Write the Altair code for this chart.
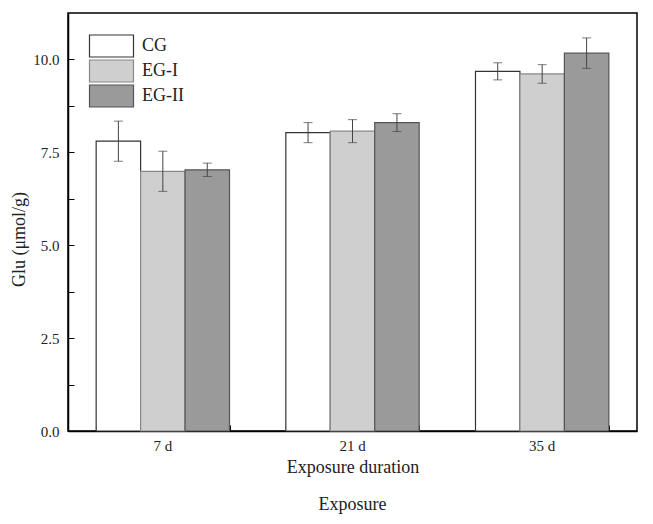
import altair as alt
import pandas as pd

durations = ["7 d", "21 d", "35 d"]
groups = ["CG", "EG-I", "EG-II"]
cg_mean = [7.80, 8.03, 9.68]
egi_mean = [6.99, 8.07, 9.61]
egii_mean = [7.03, 8.30, 10.17]
cg_err = [0.54, 0.27, 0.23]
egi_err = [0.54, 0.31, 0.25]
egii_err = [0.18, 0.24, 0.41]
y_labels = [0, 2.5, 5, 7.5, 10]
y_ticks = [0, 1.25, 2.5, 3.75, 5, 6.25, 7.5, 8.75, 10]
fills = ["#ffffff", "#cfcfcf", "#9a9a9a"]
strokes = ["#333333", "#888888", "#555555"]

rows = []
for g, means, errs in zip(groups, [cg_mean, egi_mean, egii_mean], [cg_err, egi_err, egii_err]):
    for d, m, e in zip(durations, means, errs):
        rows.append({"Duration": d, "Group": g, "Glu": m, "lo": m - e, "hi": m + e})
df = pd.DataFrame(rows)

W, H = 569, 418
FONT = "Liberation Serif"
TXT = "#222222"

x_scale = alt.Scale(domain=durations, paddingInner=0.297, paddingOuter=0.1485)
y_scale = alt.Scale(domain=[0, 11.25], nice=False, zero=True)
xo_scale = alt.Scale(domain=groups, paddingInner=0, paddingOuter=0)

legend = alt.Legend(
    title=None, orient="none", legendX=34.5, legendY=24,
    symbolType="M-4,-2H4V2H-4Z", symbolSize=121, symbolStrokeWidth=1.2,
    labelFont=FONT, labelFontSize=18, labelColor=TXT, labelOffset=21.5,
    rowPadding=-3, padding=0,
)

base = alt.Chart(df)

bars = base.mark_bar(strokeWidth=1.2).encode(
    x=alt.X("Duration:N", scale=x_scale, sort=durations,
            axis=alt.Axis(title="Exposure duration", ticks=False, labelAngle=0,
                          labelPadding=7, titlePadding=5)),
    xOffset=alt.XOffset("Group:N", scale=xo_scale, sort=groups),
    y=alt.Y("Glu:Q", scale=y_scale,
            axis=alt.Axis(title="Glu (μmol/g)", values=y_labels, format=".1f",
                          ticks=False, labelPadding=9, grid=False, titlePadding=4,
                          titleY=226)),
    fill=alt.Fill("Group:N", scale=alt.Scale(domain=groups, range=fills), legend=legend),
    stroke=alt.Stroke("Group:N", scale=alt.Scale(domain=groups, range=strokes), legend=legend),
)

err = base.mark_rule(color="#444444", strokeWidth=1).encode(
    x=alt.X("Duration:N", scale=x_scale, sort=durations, axis=None),
    xOffset=alt.XOffset("Group:N", scale=xo_scale, sort=groups),
    y=alt.Y("lo:Q", scale=y_scale, axis=None),
    y2="hi:Q",
)
cap_hi = base.mark_tick(color="#444444", thickness=1, size=9).encode(
    x=alt.X("Duration:N", scale=x_scale, sort=durations, axis=None),
    xOffset=alt.XOffset("Group:N", scale=xo_scale, sort=groups),
    y=alt.Y("hi:Q", scale=y_scale, axis=None),
)
cap_lo = base.mark_tick(color="#444444", thickness=1, size=9).encode(
    x=alt.X("Duration:N", scale=x_scale, sort=durations, axis=None),
    xOffset=alt.XOffset("Group:N", scale=xo_scale, sort=groups),
    y=alt.Y("lo:Q", scale=y_scale, axis=None),
)

inward = base.mark_bar(opacity=0).encode(
    x=alt.X("Duration:N", scale=x_scale, sort=durations,
            axis=alt.Axis(orient="top", offset=-H, labels=False, domain=False,
                          tickBand="extent", tickSize=6, title=None)),
    y=alt.Y("Glu:Q", scale=y_scale,
            axis=alt.Axis(orient="right", offset=-W, labels=False, domain=False,
                          values=y_ticks, tickSize=6, title=None, grid=False)),
)

chart = alt.layer(bars, err, cap_hi, cap_lo, inward).resolve_axis(
    x="independent", y="independent"
).properties(
    width=W, height=H,
    padding={"left": 60, "top": 5, "right": 4, "bottom": 85},
    autosize=alt.AutoSizeParams(type="none"),
    title=alt.TitleParams("Exposure", orient="bottom", anchor="middle", font=FONT,
                          fontSize=18, fontWeight="normal", color=TXT, offset=20),
).configure_view(
    stroke="black", strokeWidth=1.5
).configure_axis(
    labelFont=FONT, labelFontSize=15, labelColor=TXT,
    titleFont=FONT, titleFontSize=18, titleFontWeight="normal", titleColor=TXT,
    domainColor="black", domainWidth=1.5, tickColor="black", tickWidth=1,
)

chart.save("out.html", embed_options={"renderer": "svg", "actions": False})
